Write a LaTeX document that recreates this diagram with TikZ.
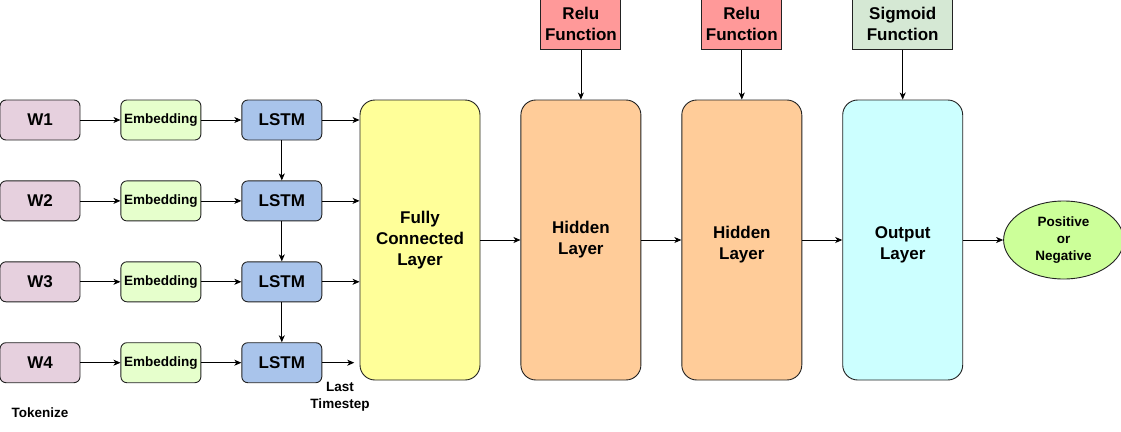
\documentclass[tikz,border=0pt]{standalone}
\usepackage{fontspec}
\setmainfont{Liberation Sans}
\usetikzlibrary{arrows.meta,positioning,shapes.geometric}

\definecolor{wordcol}{HTML}{E6D0DE}
\definecolor{embcol}{HTML}{E6FFCC}
\definecolor{lstmcol}{HTML}{A9C4EB}
\definecolor{fccol}{HTML}{FFFF99}
\definecolor{hidcol}{HTML}{FFCC99}
\definecolor{outcol}{HTML}{CCFFFF}
\definecolor{relucol}{HTML}{FF9999}
\definecolor{sigcol}{HTML}{D5E8D4}
\definecolor{resultcol}{HTML}{CCFF99}
\definecolor{edgecol}{HTML}{222222}

\begin{document}
\begin{tikzpicture}[
		x=1pt, y=-1pt,
		bigtext/.style={font=\fontsize{17}{21}\selectfont\bfseries},
		smalltext/.style={font=\fontsize{13.5}{17}\selectfont\bfseries},
		cell/.style={draw=edgecol, line width=0.9pt, rounded corners=6pt, minimum width=80pt, minimum height=40pt, inner sep=1pt},
		layer/.style={draw=edgecol, line width=0.9pt, rounded corners=15pt, minimum width=120pt, minimum height=280pt, align=center, bigtext},
		actbox/.style={draw=edgecol, line width=0.9pt, minimum width=80pt, minimum height=50pt, align=center, bigtext},
		conn/.style={-{Stealth[length=7pt,width=6pt,inset=2pt]}, line width=0.8pt},
	]
		\useasboundingbox (0,0) rectangle (1121,431);

		% input words, embeddings and LSTM cells
		\node[cell, fill=wordcol, bigtext] (w1) at (40,120) {W1};
		\node[cell, fill=wordcol, bigtext, below=40pt of w1] (w2) {W2};
		\node[cell, fill=wordcol, bigtext, below=40pt of w2] (w3) {W3};
		\node[cell, fill=wordcol, bigtext, below=40pt of w3] (w4) {W4};

		\node[cell, fill=embcol, smalltext, right=40pt of w1] (emb1) {Embedding};
		\node[cell, fill=embcol, smalltext, right=40pt of w2] (emb2) {Embedding};
		\node[cell, fill=embcol, smalltext, right=40pt of w3] (emb3) {Embedding};
		\node[cell, fill=embcol, smalltext, right=40pt of w4] (emb4) {Embedding};

		\node[cell, fill=lstmcol, bigtext, right=40pt of emb1] (lstm1) {LSTM};
		\node[cell, fill=lstmcol, bigtext, right=40pt of emb2] (lstm2) {LSTM};
		\node[cell, fill=lstmcol, bigtext, right=40pt of emb3] (lstm3) {LSTM};
		\node[cell, fill=lstmcol, bigtext, right=40pt of emb4] (lstm4) {LSTM};

		% dense layers
		\node[layer, fill=fccol] (fc) at (420,240) {Fully\\Connected\\Layer};
		\node[layer, fill=hidcol, right=40pt of fc] (hid1) {Hidden\\Layer};
		\node[layer, fill=hidcol, right=40pt of hid1, label={[bigtext, align=center, yshift=-5pt]center:Hidden\\Layer}] (hid2) {};
		\node[layer, fill=outcol, right=40pt of hid2, label={[bigtext, align=center, yshift=-5pt]center:Output\\Layer}] (outl) {};
		\node[ellipse, draw=edgecol, line width=0.9pt, fill=resultcol, minimum width=120pt, minimum height=78pt, inner sep=0pt, align=center, smalltext, right=40pt of outl] (res) {Positive\\or\\Negative};

		% activation functions
		\node[actbox, fill=relucol, above=50pt of hid1] (relu1) {Relu\\Function};
		\node[actbox, fill=relucol, above=50pt of hid2] (relu2) {Relu\\Function};
		\node[actbox, fill=sigcol, minimum width=100pt, above=50pt of outl] (sig) {Sigmoid\\Function};

		% captions
		\node[smalltext] (tok) at (40,413) {Tokenize};
		\node[smalltext, align=center] (last) at (340,397) {Last\\Timestep};

		\coordinate[right=32pt of lstm4] (ts);

		\draw[conn] (w1) -- (emb1);
		\draw[conn] (w2) -- (emb2);
		\draw[conn] (w3) -- (emb3);
		\draw[conn] (w4) -- (emb4);
		\draw[conn] (emb1) -- (lstm1);
		\draw[conn] (emb2) -- (lstm2);
		\draw[conn] (emb3) -- (lstm3);
		\draw[conn] (emb4) -- (lstm4);
		\draw[conn] (lstm1) -- (lstm2);
		\draw[conn] (lstm2) -- (lstm3);
		\draw[conn] (lstm3) -- (lstm4);
		\draw[conn] (lstm1) -- (lstm1 -| fc.west);
		\draw[conn] (lstm2) -- (lstm2 -| fc.west);
		\draw[conn] (lstm3) -- (lstm3 -| fc.west);
		\draw[conn] (lstm4) -- (ts);
		\draw[conn] (fc) -- (hid1);
		\draw[conn] (hid1) -- (hid2);
		\draw[conn] (hid2) -- (outl);
		\draw[conn] (outl) -- (res);
		\draw[conn] (relu1) -- (hid1);
		\draw[conn] (relu2) -- (hid2);
		\draw[conn] (sig) -- (outl);
	\end{tikzpicture}
\end{document}
